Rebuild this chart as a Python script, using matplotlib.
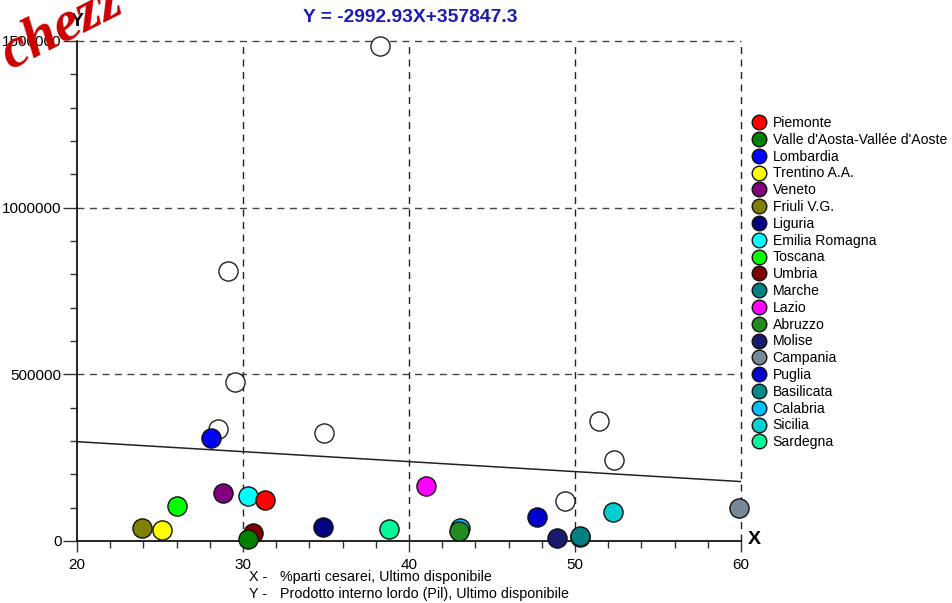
import matplotlib
matplotlib.use("Agg")
import matplotlib.pyplot as plt
from matplotlib.ticker import MultipleLocator, FixedLocator
from matplotlib.lines import Line2D
import numpy as np

plt.rcParams['font.family'] = ['Liberation Sans', 'DejaVu Sans']

regions = ["Piemonte", "Valle d'Aosta-Vallée d'Aoste", "Lombardia", "Trentino A.A.",
           "Veneto", "Friuli V.G.", "Liguria", "Emilia Romagna", "Toscana", "Umbria",
           "Marche", "Lazio", "Abruzzo", "Molise", "Campania", "Puglia", "Basilicata",
           "Calabria", "Sicilia", "Sardegna"]
colors = ["#ff0000", "#008000", "#0000ff", "#ffff00", "#800080", "#808000", "#000080",
          "#00ffff", "#00ff00", "#800000", "#008080", "#ff00ff", "#228b22", "#191970",
          "#778899", "#0000cd", "#008b8b", "#00bfff", "#00ced1", "#00fa9a"]
x_vals = [31.3, 30.3, 28.1, 25.1, 28.8, 23.9, 34.8, 30.3, 26.0, 30.6,
          50.3, 41.0, 43.0, 48.9, 59.9, 47.7, 50.3, 43.1, 52.3, 38.8]
y_vals = [123000, 6000, 309000, 33000, 144000, 39000, 42000, 135000, 105000, 24000,
          15000, 165000, 30000, 9000, 99000, 72000, 13000, 39000, 87000, 36000]

# unlabelled open circles
open_x = [38.25, 29.1, 29.5, 28.5, 34.9, 51.45, 52.35, 49.4]
open_y = [1485000, 810000, 477000, 336000, 324000, 360000, 243000, 120000]

slope = -2992.93
intercept = 357847.3
x_ticks = [20, 30, 40, 50, 60]
y_ticks = [0, 500000, 1000000, 1500000]

fig = plt.figure(figsize=(9.52, 6.03), dpi=100)
ax = fig.add_axes([77/952, 62/603, 664/952, 500/603])
ax.set_xlim(20, 60)
ax.set_ylim(0, 1500000)

for s in ['top', 'right']:
    ax.spines[s].set_visible(False)
for s in ['left', 'bottom']:
    ax.spines[s].set_linewidth(1.2)

# grid
for xv in x_ticks[1:]:
    ax.axvline(xv, color='#222222', lw=1, ls=(0, (5, 4)), zorder=1, clip_on=False)
for yv in y_ticks[1:]:
    ax.axhline(yv, color='#444444', lw=1, ls=(0, (5, 4)), zorder=1, clip_on=False)

# regression line
xl = np.array([20, 60])
ax.plot(xl, slope * xl + intercept, color='#222222', lw=1.1, zorder=2)

ax.scatter(open_x, open_y, s=190, facecolor='white', edgecolor='#222222',
           linewidth=1, zorder=3, clip_on=False)
for i in reversed(range(len(regions))):
    ax.scatter([x_vals[i]], [y_vals[i]], s=190, facecolor=colors[i],
               edgecolor='#111111', linewidth=1, zorder=4 + (len(regions) - i) * 0.01,
               clip_on=False)

ax.xaxis.set_major_locator(FixedLocator(x_ticks))
ax.xaxis.set_minor_locator(MultipleLocator(2))
ax.yaxis.set_major_locator(FixedLocator(y_ticks))
ax.yaxis.set_minor_locator(MultipleLocator(100000))
ax.tick_params(axis='both', which='major', direction='out', length=10, width=1,
               labelsize=11, color='#333333')
ax.tick_params(axis='both', which='minor', direction='out', length=5, width=1,
               color='#333333')
ax.tick_params(axis='y', which='major', pad=1)
ax.tick_params(axis='x', which='major', length=8, pad=4)
ax.tick_params(axis='x', which='minor', length=5)
ax.set_xticklabels([str(t) for t in x_ticks])
ax.set_yticklabels([str(t) for t in y_ticks])

# axis letters
fig.text(77/952, 1 - 22/603, "Y", ha='center', va='center', fontsize=14, fontweight='bold')
fig.text(754/952, 1 - 540/603, "X", ha='center', va='center', fontsize=14, fontweight='bold')

# title
fig.text(410/952, 1 - 17/603, "Y = -2992.93X+357847.3", ha='center', va='center',
         fontsize=13.9, fontweight='bold', color='#1a1ab4')

# legend
handles = [Line2D([], [], ls='none', marker='o', markersize=10.5, markerfacecolor=c,
                  markeredgecolor='#111111', markeredgewidth=1) for c in colors]
fig.legend(handles, regions, loc='upper left', bbox_to_anchor=(748/952, 1 - 116/603),
           frameon=False, fontsize=10.1, handletextpad=0.15, labelspacing=0.2,
           borderpad=0, handlelength=1.6, borderaxespad=0)

# bottom descriptions
fig.text(249/952, 1 - 577/603, "X -", ha='left', va='center', fontsize=10.3)
fig.text(280/952, 1 - 577/603, "%parti cesarei, Ultimo disponibile", ha='left', va='center', fontsize=10.3)
fig.text(249/952, 1 - 594/603, "Y -", ha='left', va='center', fontsize=10.3)
fig.text(280/952, 1 - 594/603, "Prodotto interno lordo (Pil), Ultimo disponibile", ha='left', va='center', fontsize=10.3)

# watermark
fig.text(-8/952, 1 - 68/603, "chezz", ha='left', va='baseline', rotation=27,
         fontsize=42, fontweight='bold', fontstyle='italic', color='#cc0000',
         family=['Liberation Serif', 'DejaVu Serif'], zorder=10)

fig.savefig("out.png", dpi=100)
